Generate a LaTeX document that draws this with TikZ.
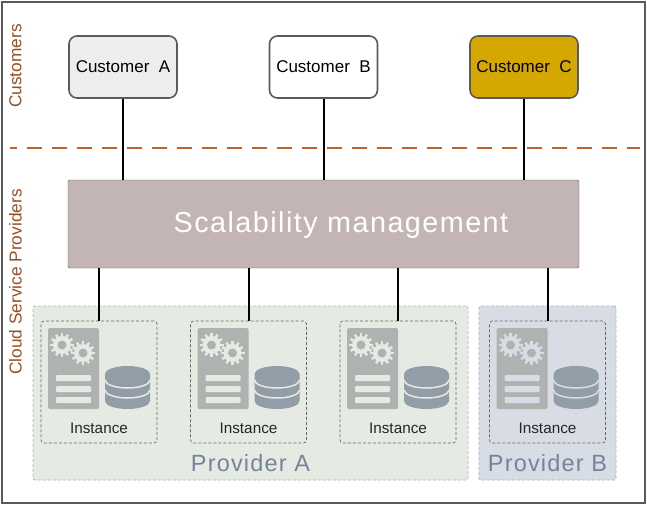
\documentclass[tikz,border=0pt]{standalone}
\usepackage{fontspec}
\setmainfont{Liberation Sans}
\newfontfamily\spacedfont[LetterSpace=5]{Liberation Sans}
\definecolor{frameGray}{HTML}{5A5A5A}
\definecolor{custAfill}{HTML}{EDEDED}
\definecolor{custCfill}{HTML}{D4A800}
\definecolor{scalFill}{HTML}{C4B5B5}
\definecolor{sepColor}{HTML}{C0622A}
\definecolor{provAfill}{HTML}{E5EBE3}
\definecolor{provBfill}{HTML}{D8DCE4}
\definecolor{provText}{HTML}{75849C}
\definecolor{dbColor}{HTML}{929DA7}
\definecolor{srvColor}{HTML}{B0B2B2}
\tikzset{
	pics/gear/.style={code={
		\foreach \a in {0,30,...,330}
			\draw [line width=2.4pt, draw=#1] (0,0) -- (\a:12pt);
		\fill [#1] (0,0) circle (9pt);
		\fill [srvColor] (0,0) circle (4.5pt);
	}},
	pics/instanceicon/.style={code={
		\fill [srvColor, rounded corners=1.5pt] (-51,-54) rectangle (0,27);
		\pic at (-37,-37) {gear=#1};
		\pic at (-16,-29) {gear=#1};
		\foreach \y in {-7,4,15}
			\fill [#1, rounded corners=1pt] (-43,\y) rectangle (-8,\y+6);
		% cylinder, then the two gaps across it
		\fill [dbColor] (6,-8) -- (6,19) arc [start angle=180, end angle=0, x radius=22.5, y radius=8] -- (51,-8) arc [start angle=0, end angle=-180, x radius=22.5, y radius=8] -- cycle;
		\draw [#1, line width=1.5pt] (6,-2) arc [start angle=180, end angle=0, x radius=22.5, y radius=8];
		\draw [#1, line width=1.5pt] (6,8) arc [start angle=180, end angle=0, x radius=22.5, y radius=8];
	}}
}
\tikzstyle{customer} = [rectangle, rounded corners=8pt, minimum width=108pt, minimum height=62pt, text centered, draw=frameGray, line width=1.6pt, font=\fontsize{17}{20}\selectfont]
\tikzstyle{manager} = [rectangle, rounded corners=2pt, minimum width=511pt, minimum height=88pt, draw=frameGray, fill=scalFill]
\tikzstyle{managerlabel} = [text=white, font=\spacedfont\fontsize{28.8}{32}\selectfont]
\tikzstyle{provider} = [rectangle, rounded corners=2pt, minimum height=174pt, draw=black!30, densely dashed, line width=0.8pt]
\tikzstyle{instance} = [rectangle, rounded corners=3pt, minimum width=116pt, minimum height=122pt, draw=black!60, densely dashed, line width=0.7pt]
\tikzstyle{instlabel} = [font=\fontsize{15.3}{18}\selectfont, text=black!85]
\tikzstyle{provlabel} = [text=provText, font=\spacedfont\fontsize{23.5}{26}\selectfont]
\tikzstyle{layer} = [rotate=90, text=sepColor!80!black, font=\fontsize{17.3}{20}\selectfont]
\tikzstyle{link} = [line width=2pt, black]
\begin{document}
\begin{tikzpicture}[x=1pt, y=-1pt, node distance=200.5pt]
	\useasboundingbox (0,0) rectangle (647,506);

	% Nodes
	\node (frame) [draw=frameGray, line width=1.2pt, minimum width=643pt, minimum height=501pt] at (323.5,252.5) {};
	\node (custA) [customer, fill=custAfill] at (123,67) {Customer\ \ A};
	\node (custB) [customer, fill=white, right of=custA] {Customer\ \ B};
	\node (custC) [customer, fill=custCfill, right of=custB] {Customer\ \ C};
	\node (scal) [manager, below of=custB, yshift=43.5pt] {};
	\node (scalLabel) [managerlabel, node distance=17.5pt, right of=scal, yshift=-1.5pt] {Scalability management};

	\node (provA) [provider, fill=provAfill, minimum width=435pt] at (250.5,393) {};
	\node (provB) [provider, fill=provBfill, minimum width=137pt] at (547.5,393) {};

	\node (inst1) [instance, node distance=149.5pt] at (99,382) {};
	\node (inst2) [instance, node distance=149.5pt, right of=inst1] {};
	\node (inst3) [instance, node distance=149.5pt, right of=inst2] {};
	\node (inst4) [instance, node distance=149.5pt, right of=inst3] {};

	\pic at (inst1) {instanceicon=provAfill};
	\pic at (inst2) {instanceicon=provAfill};
	\pic at (inst3) {instanceicon=provAfill};
	\pic at (inst4) {instanceicon=provBfill};

	\node (lab1) [instlabel, node distance=46pt, below of=inst1] {Instance};
	\node (lab2) [instlabel, node distance=46pt, below of=inst2] {Instance};
	\node (lab3) [instlabel, node distance=46pt, below of=inst3] {Instance};
	\node (lab4) [instlabel, node distance=46pt, below of=inst4] {Instance};

	\node (nameA) [provlabel, node distance=70pt, below of=provA] {Provider A};
	\node (nameB) [provlabel, node distance=70pt, below of=provB] {Provider B};

	\node (layerC) [layer] at (15.5,66) {Customers};
	\node (layerP) [layer] at (15.5,282) {Cloud Service Providers};

	\coordinate (sepL) at (10,148);
	\coordinate (sepR) at (640,148);

	% Arrows
	\draw [sepColor, line width=1.5pt, dash pattern=on 15pt off 10pt, dash phase=8pt] (sepL) -- (sepR);
	\draw [link] (custA) -- (custA |- scal.north);
	\draw [link] (custB) -- (scal);
	\draw [link] (custC) -- (custC |- scal.north);
	\draw [link] (inst1.north |- scal.south) -- (inst1.north);
	\draw [link] (inst2.north |- scal.south) -- (inst2.north);
	\draw [link] (inst3.north |- scal.south) -- (inst3.north);
	\draw [link] (inst4.north |- scal.south) -- (inst4.north);
\end{tikzpicture}
\end{document}
